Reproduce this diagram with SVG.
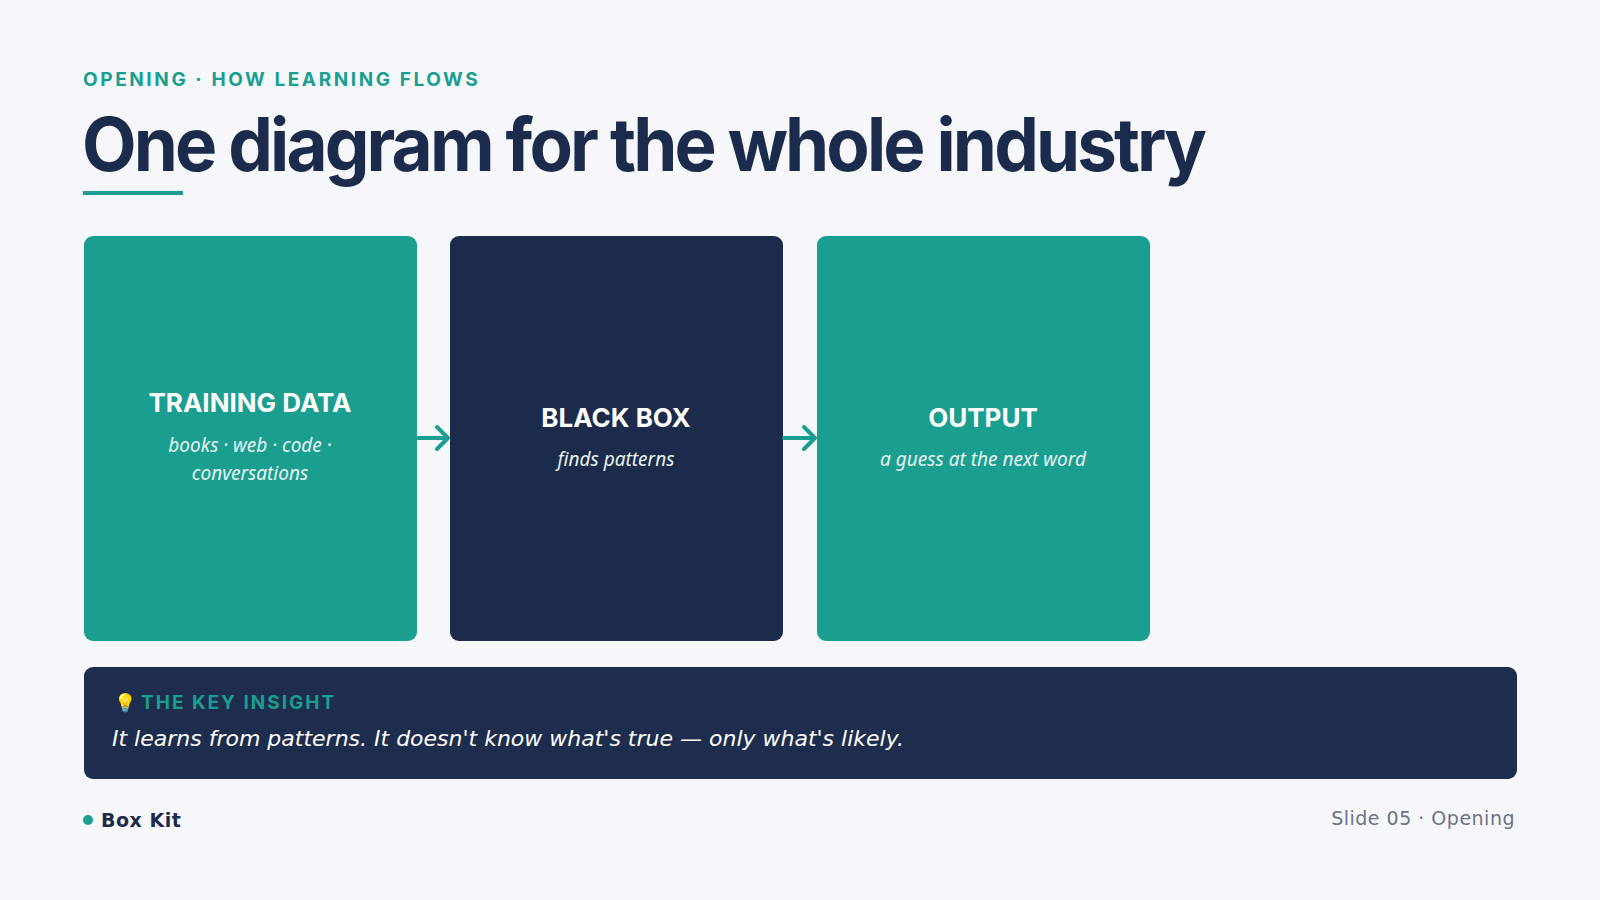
<svg xmlns="http://www.w3.org/2000/svg" width="1600" height="900" viewBox="0 0 1600 900">
<style>
text{font-family:"DejaVu Sans","Noto Sans",sans-serif}
.kick{font-family:Inter,"Noto Sans",sans-serif;font-size:19px;font-weight:700;fill:#1a9e8f;letter-spacing:2.6px}
.title{font-family:Inter,"Noto Sans",sans-serif;font-size:74px;font-weight:700;fill:#1c2a4b;letter-spacing:-3px}
.bt{font-family:Inter,"Noto Sans",sans-serif;font-size:26px;font-weight:700;fill:#fff;text-anchor:middle}
.bs{font-family:"Noto Sans",sans-serif;font-size:19px;font-style:italic;fill:#e8f4f2;text-anchor:middle}
.conn{stroke:#1a9e8f;stroke-width:4;fill:none;stroke-linecap:round;stroke-linejoin:round}
</style>
<rect width="1600" height="900" fill="#f5f7fb"/>
<text class="kick" x="83" y="86">OPENING · HOW LEARNING FLOWS</text>
<text class="title" x="82" y="171" textLength="1122" lengthAdjust="spacingAndGlyphs">One diagram for the whole industry</text>
<rect x="83" y="191" width="100" height="4" fill="#1a9e8f"/>
<g id="node-training"><rect x="84" y="236" width="333" height="405" rx="9" fill="#1a9e8f"/>
<text class="bt" x="250" y="412">TRAINING DATA</text>
<text class="bs" x="250" y="452">books · web · code ·</text>
<text class="bs" x="250" y="480">conversations</text></g>
<g id="node-blackbox"><rect x="450" y="236" width="333" height="405" rx="9" fill="#1c2a4b"/>
<text class="bt" x="616" y="427">BLACK BOX</text>
<text class="bs" x="616" y="466">finds patterns</text></g>
<g id="node-output"><rect x="817" y="236" width="333" height="405" rx="9" fill="#1a9e8f"/>
<text class="bt" x="983" y="427">OUTPUT</text>
<text class="bs" x="983" y="466">a guess at the next word</text></g>
<g id="connectors">
<path class="conn" d="M418 438H447M437 427L448 438L437 449"/>
<path class="conn" d="M784 438H814M804 427L815 438L804 449"/>
</g>
<g id="insight"><rect x="84" y="667" width="1433" height="112" rx="9" fill="#1e2d4e"/>
<text x="114" y="709" font-size="18" font-family="'Noto Color Emoji',sans-serif">💡</text>
<text class="kick" x="141" y="709" style="letter-spacing:2px">THE KEY INSIGHT</text>
<text x="112" y="746" font-family="'Noto Sans',sans-serif" font-size="22" font-style="italic" fill="#fff">It learns from patterns. It doesn't know what's true — only what's likely.</text></g>
<g id="footer"><circle cx="88" cy="820" r="5" fill="#1a9e8f"/>
<text x="101" y="827" font-family="Inter,sans-serif" font-size="19" font-weight="700" fill="#1c2a4b" letter-spacing="0.5">Box Kit</text>
<text x="1515" y="825" font-family="Inter,sans-serif" font-size="19" fill="#6b7385" text-anchor="end" letter-spacing="0.5">Slide 05 · Opening</text></g>
</svg>
